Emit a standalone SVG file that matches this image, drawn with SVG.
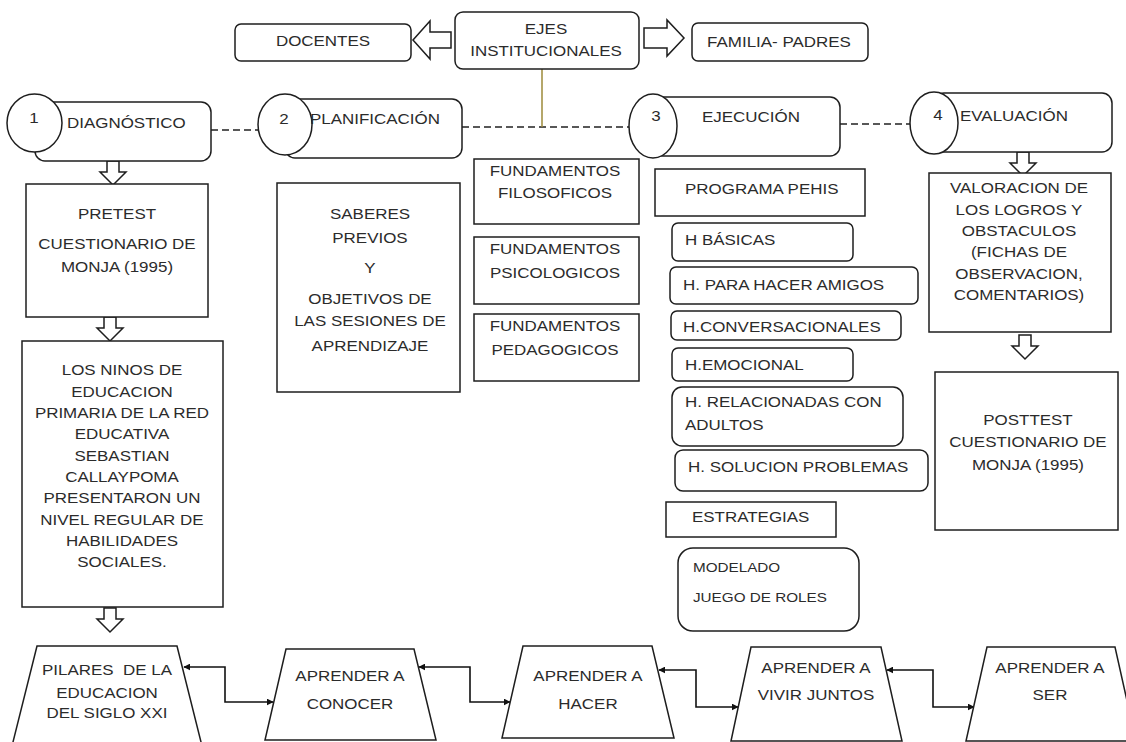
<svg xmlns="http://www.w3.org/2000/svg" width="1126" height="742" viewBox="0 0 1126 742">
<defs>
<style>
.box{fill:#fff;stroke:#1e1e1e;stroke-width:1.5}
.harrow{fill:#fff;stroke:#1e1e1e;stroke-width:1.5;stroke-linejoin:miter}
.dash{fill:none;stroke:#222;stroke-width:1.3;stroke-dasharray:7 4}
.link{fill:none;stroke:#111;stroke-width:1.6}
.t{font-family:"Liberation Sans",Arial,sans-serif;font-size:15px;fill:#2b2b2b;transform-box:fill-box;transform:scaleX(1.13)}
.c{text-anchor:middle;transform-origin:center}
.l{text-anchor:start;transform-origin:left}
.s{font-size:13.5px}
</style>
<path id="darrow" class="harrow" d="M-6,0 H6 V11 H13 L0,24 L-13,11 H-6 Z"/>
<marker id="ah" viewBox="0 0 10 10" refX="9" refY="5" markerWidth="7" markerHeight="7" markerUnits="userSpaceOnUse" orient="auto-start-reverse">
<path d="M0,0 L10,5 L0,10 Z" fill="#111"/>
</marker>
</defs>
<rect width="1126" height="742" fill="#fff"/>

<g id="connectors">
<path class="dash" d="M211,130 H258"/>
<path class="dash" d="M462,127 H629"/>
<path class="dash" d="M840,124 H910"/>
<path d="M542,69 V127" stroke="#9c8a3a" stroke-width="1.5" fill="none"/>
<path class="harrow" d="M451,32 H430 V21 L413,40 L430,59 V48 H451 Z"/>
<path class="harrow" d="M644,28 H667 V20 L684,38 L667,56 V48 H644 Z"/>
<use href="#darrow" x="113" y="161"/>
<use href="#darrow" x="110" y="317"/>
<use href="#darrow" x="110" y="608"/>
<use href="#darrow" x="1023" y="152"/>
<use href="#darrow" x="1025" y="335"/>
<path class="link" d="M184,667 H225 V702 H273" marker-start="url(#ah)" marker-end="url(#ah)"/>
<path class="link" d="M419,667 H470 V702 H510" marker-start="url(#ah)" marker-end="url(#ah)"/>
<path class="link" d="M659,670 H696 V707 H738" marker-start="url(#ah)" marker-end="url(#ah)"/>
<path class="link" d="M887,670 H933 V707 H974" marker-start="url(#ah)" marker-end="url(#ah)"/>
</g>

<g id="docentes">
<rect class="box" x="235" y="24" width="176" height="37" rx="6"/>
<text class="t c" x="323" y="46">DOCENTES</text>
</g>
<g id="ejes">
<rect class="box" x="455" y="12" width="184" height="57" rx="8"/>
<text class="t c" x="546" y="34.5">EJES</text>
<text class="t c" x="546" y="56">INSTITUCIONALES</text>
</g>
<g id="familia">
<rect class="box" x="692" y="23" width="176" height="38" rx="6"/>
<text class="t c" x="779" y="47">FAMILIA- PADRES</text>
</g>

<g id="diagnostico">
<rect class="box" x="35" y="102" width="176" height="59" rx="10"/>
<ellipse class="box" cx="34.5" cy="123" rx="27.5" ry="29"/>
<text class="t c" x="34" y="123">1</text>
<text class="t l" x="67" y="128.5">DIAGNÓSTICO</text>
</g>
<g id="planificacion">
<rect class="box" x="285" y="99" width="177" height="59" rx="10"/>
<ellipse class="box" cx="285" cy="124.5" rx="27" ry="30.5"/>
<text class="t c" x="284" y="124">2</text>
<text class="t l" x="310" y="124.5">PLANIFICACIÓN</text>
</g>
<g id="ejecucion">
<rect class="box" x="653" y="97" width="187" height="59" rx="10"/>
<ellipse class="box" cx="653" cy="126" rx="24" ry="32"/>
<text class="t c" x="656" y="121.5">3</text>
<text class="t l" x="702" y="122.5">EJECUCIÓN</text>
</g>
<g id="evaluacion">
<rect class="box" x="934" y="93" width="178" height="59" rx="10"/>
<ellipse class="box" cx="934" cy="123" rx="24" ry="31"/>
<text class="t c" x="938" y="120.5">4</text>
<text class="t l" x="960" y="121">EVALUACIÓN</text>
</g>

<g id="pretest">
<rect class="box" x="26" y="184" width="182" height="133"/>
<text class="t c" x="117" y="219.5">PRETEST</text>
<text class="t c" x="117" y="249.5">CUESTIONARIO DE</text>
<text class="t c" x="117" y="272.5">MONJA (1995)</text>
</g>
<g id="ninos">
<rect class="box" x="22" y="341" width="201" height="266"/>
<text class="t c" x="122" y="375.5">LOS NINOS DE</text>
<text class="t c" x="122" y="396.8">EDUCACION</text>
<text class="t c" x="122" y="418.1">PRIMARIA DE LA RED</text>
<text class="t c" x="122" y="439.4">EDUCATIVA</text>
<text class="t c" x="122" y="460.7">SEBASTIAN</text>
<text class="t c" x="122" y="482">CALLAYPOMA</text>
<text class="t c" x="122" y="503.3">PRESENTARON UN</text>
<text class="t c" x="122" y="524.6">NIVEL REGULAR DE</text>
<text class="t c" x="122" y="545.9">HABILIDADES</text>
<text class="t c" x="122" y="567.2">SOCIALES.</text>
</g>

<g id="saberes">
<rect class="box" x="277" y="183" width="183" height="209"/>
<text class="t c" x="370" y="219">SABERES</text>
<text class="t c" x="370" y="243">PREVIOS</text>
<text class="t c" x="370" y="273.5">Y</text>
<text class="t c" x="370" y="304.5">OBJETIVOS DE</text>
<text class="t c" x="370" y="326.5">LAS SESIONES DE</text>
<text class="t c" x="370" y="351">APRENDIZAJE</text>
</g>

<g id="fund-filosoficos">
<rect class="box" x="474" y="159" width="165" height="65"/>
<text class="t c" x="555" y="176.5">FUNDAMENTOS</text>
<text class="t c" x="555" y="198.5">FILOSOFICOS</text>
</g>
<g id="fund-psicologicos">
<rect class="box" x="474" y="237" width="165" height="67"/>
<text class="t c" x="555" y="254.5">FUNDAMENTOS</text>
<text class="t c" x="555" y="278.5">PSICOLOGICOS</text>
</g>
<g id="fund-pedagogicos">
<rect class="box" x="474" y="314" width="165" height="67"/>
<text class="t c" x="555" y="331.5">FUNDAMENTOS</text>
<text class="t c" x="555" y="355.5">PEDAGOGICOS</text>
</g>

<g id="programa">
<rect class="box" x="655" y="169" width="210" height="47"/>
<text class="t l" x="685" y="194">PROGRAMA PEHIS</text>
</g>
<g id="h-basicas">
<rect class="box" x="672" y="223" width="181" height="38" rx="6"/>
<text class="t l" x="685" y="245">H BÁSICAS</text>
</g>
<g id="h-amigos">
<rect class="box" x="670" y="267" width="248" height="37" rx="6"/>
<text class="t l" x="683" y="290.5">H. PARA HACER AMIGOS</text>
</g>
<g id="h-conversacionales">
<rect class="box" x="671" y="311" width="230" height="29" rx="6"/>
<text class="t l" x="683" y="332.5">H.CONVERSACIONALES</text>
</g>
<g id="h-emocional">
<rect class="box" x="672" y="348" width="181" height="33" rx="6"/>
<text class="t l" x="685" y="370">H.EMOCIONAL</text>
</g>
<g id="h-adultos">
<rect class="box" x="672" y="387" width="231" height="59" rx="10"/>
<text class="t l" x="685" y="407.5">H. RELACIONADAS CON</text>
<text class="t l" x="685" y="430.5">ADULTOS</text>
</g>
<g id="h-problemas">
<rect class="box" x="675" y="450" width="253" height="41" rx="8"/>
<text class="t l" x="688" y="472.5">H. SOLUCION PROBLEMAS</text>
</g>
<g id="estrategias">
<rect class="box" x="666" y="502" width="170" height="35"/>
<text class="t l" x="692" y="522.5">ESTRATEGIAS</text>
</g>
<g id="modelado">
<rect class="box" x="678" y="548" width="181" height="83" rx="15"/>
<text class="t l s" x="693" y="572">MODELADO</text>
<text class="t l s" x="693" y="602">JUEGO DE ROLES</text>
</g>

<g id="valoracion">
<rect class="box" x="929" y="173" width="182" height="159"/>
<text class="t c" x="1019" y="193.5">VALORACION DE</text>
<text class="t c" x="1019" y="215">LOS LOGROS Y</text>
<text class="t c" x="1019" y="236.5">OBSTACULOS</text>
<text class="t c" x="1019" y="257.5">(FICHAS DE</text>
<text class="t c" x="1019" y="279">OBSERVACION,</text>
<text class="t c" x="1019" y="300.5">COMENTARIOS)</text>
</g>
<g id="posttest">
<rect class="box" x="935" y="372" width="183" height="158"/>
<text class="t c" x="1028" y="425.5">POSTTEST</text>
<text class="t c" x="1028" y="447.5">CUESTIONARIO DE</text>
<text class="t c" x="1028" y="470.5">MONJA (1995)</text>
</g>

<g id="pilares">
<path class="box" d="M37,646 H177 L202,746 H12 Z"/>
<text class="t c" x="107" y="675" xml:space="preserve">PILARES  DE LA</text>
<text class="t c" x="107" y="698">EDUCACION</text>
<text class="t c" x="107" y="718">DEL SIGLO XXI</text>
</g>
<g id="conocer">
<path class="box" d="M286,649 H414 L436,740 H265 Z"/>
<text class="t c" x="350" y="681.5">APRENDER A</text>
<text class="t c" x="350" y="709">CONOCER</text>
</g>
<g id="hacer">
<path class="box" d="M523,646 H652 L674,738 H502 Z"/>
<text class="t c" x="588" y="681.5">APRENDER A</text>
<text class="t c" x="588" y="709.5">HACER</text>
</g>
<g id="vivir">
<path class="box" d="M751,647 H881 L902,741 H731 Z"/>
<text class="t c" x="816" y="673.5">APRENDER A</text>
<text class="t c" x="816" y="700.5">VIVIR JUNTOS</text>
</g>
<g id="ser">
<path class="box" d="M987,647 H1115 L1136,741 H966 Z"/>
<text class="t c" x="1050" y="673.5">APRENDER A</text>
<text class="t c" x="1050" y="700.5">SER</text>
</g>
</svg>
